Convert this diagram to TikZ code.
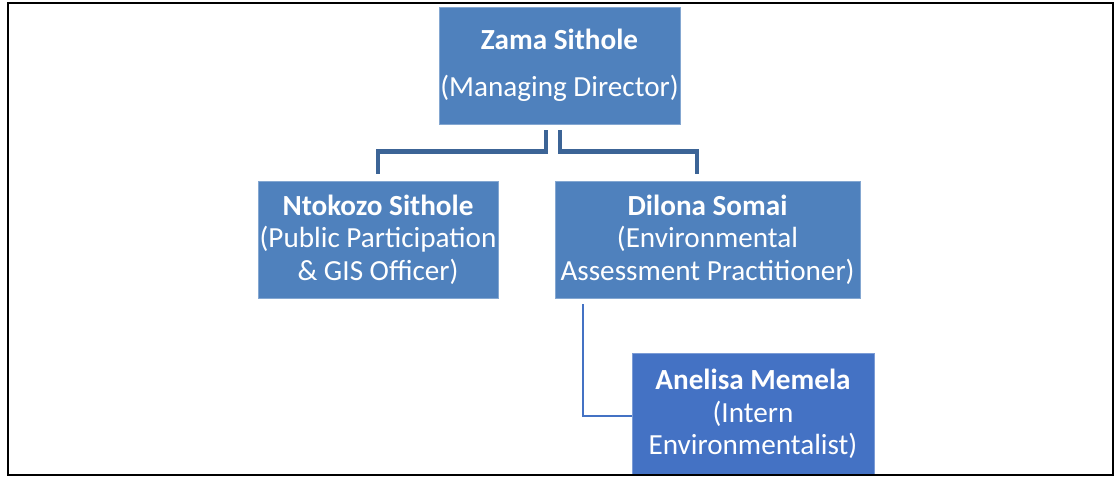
\documentclass[tikz,border=0pt]{standalone}
\usepackage{fontspec}
\setmainfont{Carlito}
\usetikzlibrary{calc}
\definecolor{boxblue}{RGB}{79,129,189}
\definecolor{internblue}{RGB}{68,114,196}
\definecolor{linkblue}{RGB}{60,100,150}
\begin{document}
\begin{tikzpicture}[
	person/.style={fill=boxblue, draw=boxblue!70!white, line width=0.3pt, text=white, align=center, minimum height=2.34cm, inner sep=0pt, font=\fontsize{16.6}{18.5}\selectfont},
	link/.style={draw=linkblue, line width=2.8pt},
	thinlink/.style={draw=internblue, line width=1.1pt}]
	\useasboundingbox (0,0) rectangle (22.36,9.54);
	\node[person, minimum width=4.82cm] (zama) at (11.19,8.23) {\textbf{Zama Sithole}\\[8pt](Managing Director)};
	\node[person, minimum width=4.8cm] (ntokozo) at (7.56,4.75) {\textbf{Ntokozo Sithole}\\(Public Participation\\\& GIS Officer)};
	\node[person, minimum width=6.1cm] (dilona) at (14.15,4.75) {\textbf{Dilona Somai}\\(Environmental\\Assessment Practitioner)};
	\node[person, fill=internblue, draw=internblue!70!white, minimum width=4.84cm, minimum height=2.44cm] (anelisa) at (15.06,1.26) {\textbf{Anelisa Memela}\\(Intern\\Environmentalist)};
	\draw[link] ([xshift=-0.27cm,yshift=-0.12cm]zama.south) -- ++(0,-0.42) -| ([yshift=0.14cm]ntokozo.north);
	\draw[link] ([xshift=0.01cm,yshift=-0.12cm]zama.south) -- ++(0,-0.42) -| ([xshift=-0.21cm,yshift=0.14cm]dilona.north);
	\draw[thinlink] ([xshift=0.56cm,yshift=-0.12cm]dilona.south west) |- ([yshift=-0.04cm]anelisa.west);
	\draw[line width=1.1pt] (0.16,0.04) rectangle (22.26,9.48);
\end{tikzpicture}
\end{document}
